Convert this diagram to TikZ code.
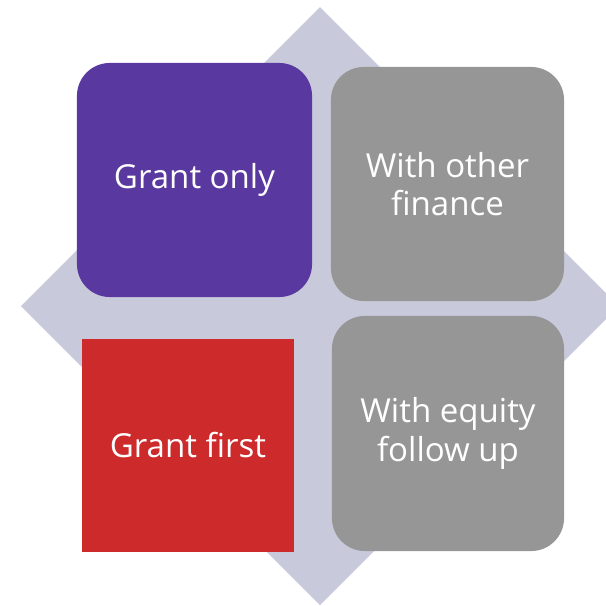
\documentclass[tikz,border=0pt]{standalone}
\usepackage{fontspec}
\setmainfont{Open Sans}
\usepackage{tikz}
\definecolor{diamondgray}{RGB}{200,202,220}
\definecolor{grantpurple}{RGB}{89,56,159}
\definecolor{grantred}{RGB}{205,43,43}
\definecolor{withgray}{RGB}{150,150,150}
\tikzstyle{quad} = [text=white, text centered, align=center, inner sep=0pt,
  font=\fontsize{23.5}{27.5}\selectfont]
\tikzstyle{roundquad} = [quad, rounded corners=0.82cm]

\begin{document}
\begin{tikzpicture}[x=0.025cm,y=-0.025cm]
  \useasboundingbox (0,0) rectangle (606,606);
  \clip (0,0) rectangle (606,606);
  % backdrop
  \fill[diamondgray] (320,7) -- (619,306) -- (320,605) -- (21,306) -- cycle;

  \node[roundquad,fill=grantpurple,minimum width=5.875cm,minimum height=5.85cm] (grantonly) at (194.5,180) {Grant only};
  \node[roundquad,fill=withgray,minimum width=5.825cm,minimum height=5.85cm] (otherfinance) at (447.5,184) {With other\\finance};
  \node[quad,fill=grantred,minimum width=5.3cm,minimum height=5.325cm] (grantfirst) at (188,445.5) {Grant first};
  \node[roundquad,fill=withgray,minimum width=5.8cm,minimum height=5.875cm] (equityfollow) at (448,433.5) {With equity\\follow up};
\end{tikzpicture}
\end{document}
